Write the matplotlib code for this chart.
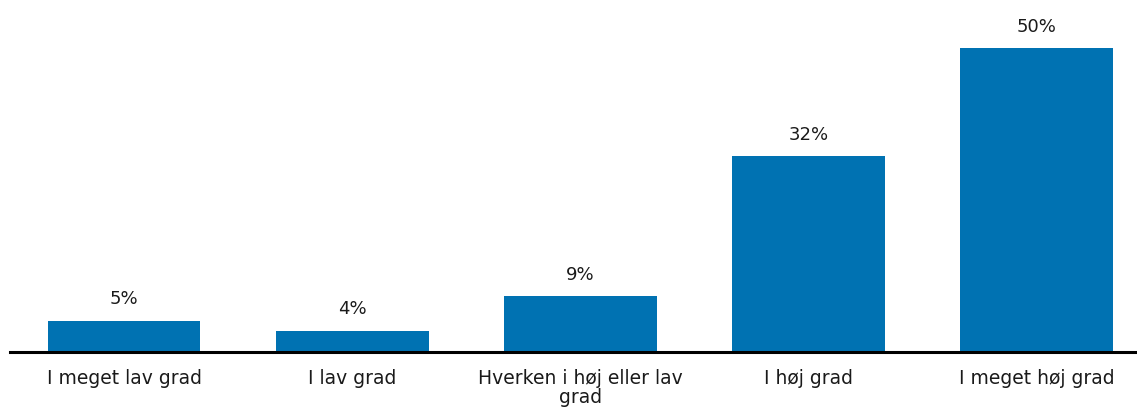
import matplotlib.pyplot as plt
import numpy as np

categories = [
    "I meget lav grad",
    "I lav grad",
    "Hverken i høj eller lav\ngrad",
    "I høj grad",
    "I meget høj grad",
]
values = [5.1, 3.5, 9.2, 32.2, 50.0]
labels = ["5%", "4%", "9%", "32%", "50%"]

BAR_COLOR = "#0072B2"

fig = plt.figure(figsize=(11.37, 4.07), dpi=100)
ax = fig.add_axes([10 / 1137, 55 / 407, 1 - 10 / 1137, 352 / 407])

x = np.arange(len(categories))
bars = ax.bar(x, values, width=0.67, color=BAR_COLOR)

for bar, label in zip(bars, labels):
    ax.annotate(
        label,
        (bar.get_x() + bar.get_width() / 2, bar.get_height()),
        xytext=(0, 9),
        textcoords="offset points",
        ha="center",
        va="bottom",
        fontsize=13,
        color="#1a1a1a",
    )

ax.set_xlim(-0.5, 4.44)
ax.set_ylim(0, 57.9)
ax.set_xticks(x)
ax.set_xticklabels(categories, fontsize=13.5, color="#1a1a1a", linespacing=1.05)
ax.tick_params(axis="x", length=0, pad=12)
ax.set_yticks([])

for side in ["top", "right", "left"]:
    ax.spines[side].set_visible(False)
ax.spines["bottom"].set_linewidth(2.2)
ax.spines["bottom"].set_color("black")

fig.savefig("out.png", dpi=100)
